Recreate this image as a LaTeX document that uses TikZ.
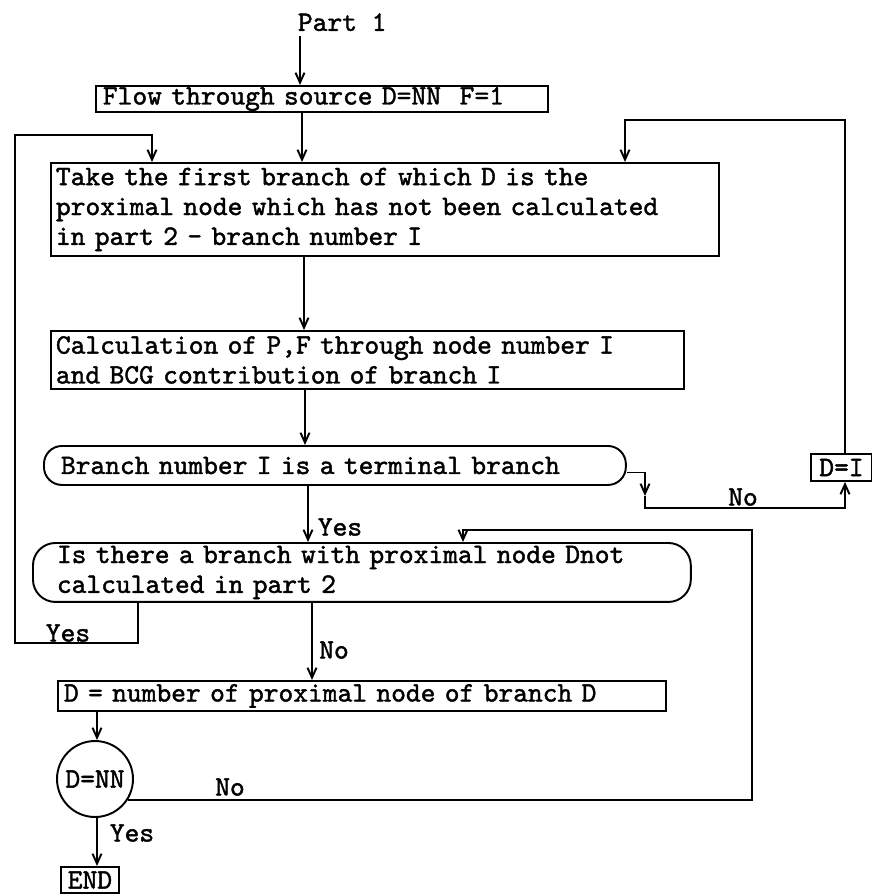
\documentclass[tikz,border=0pt]{standalone}
\usepackage{fontspec}
\newfontfamily\typefont{lmmono10-regular.otf}[FakeBold=1.5,WordSpace={1,0,0}]
\usetikzlibrary{arrows.meta}

\tikzset{
  box/.style={draw,rectangle,anchor=north west,align=left,inner ysep=0pt},
  pill/.style={box,rounded corners=#1},
  lbl/.style={inner sep=0pt},
  arr/.style={-{Straight Barb[length=2mm,width=1.8mm]}}
}

\begin{document}
\begin{tikzpicture}[x=0.02cm,y=-0.02cm,line width=1.1pt,
  font=\typefont\fontsize{16}{17}\selectfont]
\useasboundingbox (0,0) rectangle (872,894);
% boxes
\node[lbl,anchor=south west] (part1) at (297,32) {Part 1};
\coordinate (c1) at (300,36);
\node[box,inner xsep=0.14cm,text width=8.76cm,minimum width=9.04cm,minimum height=0.52cm] (flow) at (95,85) {Flow through source D=NN~~F=1};
\node[box,inner xsep=0.1cm,text width=13.16cm,minimum width=13.36cm,minimum height=1.86cm] (take) at (50,162)
  {Take the first branch of which D is the\\proximal node which has not been calculated\\in part 2 - branch number I};
\node[box,inner xsep=0.1cm,text width=12.46cm,minimum width=12.66cm,minimum height=1.16cm] (calc) at (50,330)
  {Calculation of P,F through node number I\\and BCG contribution of branch I};
\node[pill=0.36cm,inner xsep=0.34cm,text width=10.96cm,minimum width=11.64cm,minimum height=0.78cm] (term) at (43,445)
  {Branch number I is a terminal branch};
\node[pill=0.45cm,inner xsep=0.48cm,text width=12.2cm,minimum width=13.16cm,minimum height=1.18cm] (query) at (32,542)
  {Is there a branch with proximal node Dnot\\calculated in part 2};
\node[box,inner xsep=0.12cm,text width=11.92cm,minimum width=12.16cm,minimum height=0.6cm] (assign) at (57,680)
  {D = number of proximal node of branch D};
\node[draw,circle,minimum size=1.52cm,inner sep=1pt] (test) at (95,779) {D=NN};
\node[box,align=center,inner xsep=0pt,minimum width=1.16cm,minimum height=0.52cm] (stop) at (60,866) {END};
\node[box,inner xsep=0.1cm,minimum width=1.22cm,minimum height=0.54cm] (dI) at (810,453) {D=I};
% labels
\node[lbl] (yes1) at (340,527) {Yes};
\node[lbl] (no1) at (334,650) {No};
\node[lbl] (yes2) at (68,633) {Yes};
\node[lbl] (no2) at (743,497) {No};
\node[lbl] (no3) at (230,787) {No};
\node[lbl] (yes3) at (132,833) {Yes};
% main line
\draw[arr] (c1) -- (c1 |- flow.north);
\draw[arr] (302,0 |- flow.south) -- (302,0 |- take.north);
\draw[arr] (304,0 |- take.south) -- (304,0 |- calc.north);
\draw[arr] (305,0 |- calc.south) -- (305,0 |- term.north);
\draw[arr] (308,0 |- term.south) -- (308,0 |- query.north);
\draw[arr] (312,0 |- query.south) -- (312,0 |- assign.north);
\draw[arr] (97,0 |- assign.south) -- (97,0 |- test.north);
\draw[arr] (97,0 |- test.south) -- (97,0 |- stop.north);
% loops
\draw[arr] (138,0 |- query.south) |- (15,643) |- (152,135) -- (152,0 |- take.north);
\draw[arr] ([yshift=-0.14cm]term.east) -| (645,496);
\draw[arr] (645,496) |- (845,508) -- (845,0 |- dI.south);
\draw[arr] (845,0 |- dI.north) |- (625,120) -- (625,0 |- take.north);
\draw[arr] (test.-33) -| (752,530) -| (463,0 |- query.north);
\end{tikzpicture}
\end{document}
